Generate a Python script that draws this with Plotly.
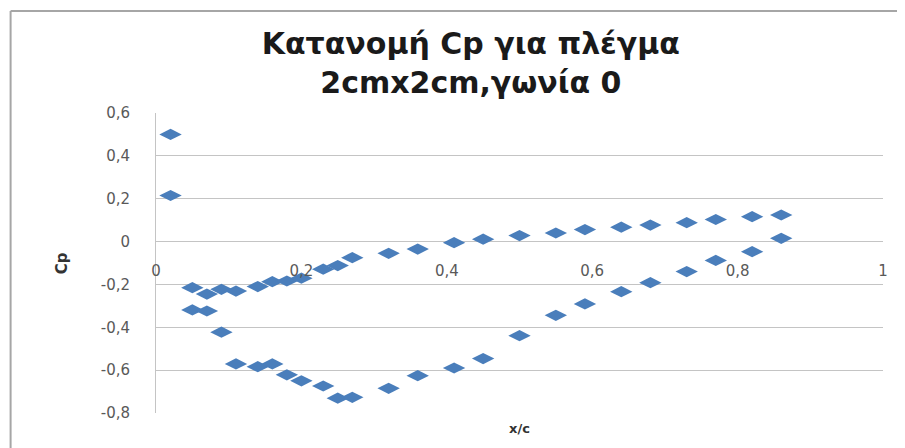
import plotly.graph_objects as go

# Data (x/c, Cp)
x_le = [0.02, 0.02]
cp_le = [0.50, 0.215]

x_stations = [0.05, 0.07, 0.09, 0.11, 0.14, 0.16, 0.18, 0.20, 0.23, 0.25, 0.27,
              0.32, 0.36, 0.41, 0.45, 0.50, 0.55, 0.59, 0.64, 0.68, 0.73, 0.77,
              0.82, 0.86]
cp_upper = [-0.215, -0.245, -0.223, -0.231, -0.210, -0.187, -0.184, -0.171,
            -0.129, -0.112, -0.075, -0.055, -0.035, -0.005, 0.011, 0.028,
            0.040, 0.056, 0.067, 0.077, 0.088, 0.103, 0.116, 0.124]
cp_lower = [-0.319, -0.324, -0.423, -0.571, -0.584, -0.571, -0.622, -0.650,
            -0.674, -0.731, -0.727, -0.685, -0.626, -0.590, -0.546, -0.439,
            -0.344, -0.291, -0.234, -0.192, -0.140, -0.088, -0.047, 0.015]

x_tickvals = [0, 0.2, 0.4, 0.6, 0.8, 1]
x_ticktext = ["0", "0,2", "0,4", "0,6", "0,8", "1"]
y_tickvals = [0.6, 0.4, 0.2, 0, -0.2, -0.4, -0.6, -0.8]
y_ticktext = ["0,6", "0,4", "0,2", "0", "-0,2", "-0,4", "-0,6", "-0,8"]

title_text = "<b>Κατανομή Cp για πλέγμα<br>2cmx2cm,γωνία 0</b>"
x_title = "<b>x/c</b>"
y_title = "<b>Cp</b>"

x_range = [0, 1]
y_range = [-0.8, 0.6]

all_x = x_le + x_stations + x_stations
all_y = cp_le + cp_upper + cp_lower

color = "#4A7EBB"
grid = "#C4C4C4"
label_col = "#595959"
FONT = "DejaVu Sans"

fig = go.Figure()
fig.add_trace(go.Scatter(
    x=all_x, y=all_y, mode="markers",
    marker=dict(symbol="diamond-wide", size=16, color=color,
                line=dict(width=0)),
    showlegend=False, cliponaxis=False,
))

zero_pos = (0 - y_range[0]) / (y_range[1] - y_range[0])

fig.update_layout(
    width=897, height=440,
    margin=dict(l=148, r=22, t=105, b=35),
    paper_bgcolor="white", plot_bgcolor="white",
    font=dict(family=FONT, color=label_col),
    title=dict(text=title_text, x=0.516, xref="container", xanchor="center",
               y=0.895, yref="container", yanchor="middle",
               font=dict(family=FONT, size=30, color="#1a1a1a")),
    xaxis=dict(range=x_range, tickvals=x_tickvals, ticktext=x_ticktext,
               showgrid=False, zeroline=False, showline=False,
               anchor="free", position=zero_pos,
               ticks="outside", ticklen=15, tickcolor="rgba(0,0,0,0)",
               tickfont=dict(size=15, color=label_col)),
    yaxis=dict(range=y_range, tickvals=y_tickvals, ticktext=y_ticktext,
               showgrid=True, gridcolor=grid, gridwidth=1,
               zeroline=False, showline=True, linecolor=grid, linewidth=1,
               ticks="outside", ticklen=22, tickcolor="rgba(0,0,0,0)",
               tickfont=dict(size=15, color=label_col)),
    annotations=[
        dict(text=x_title, xref="paper", yref="paper", x=0.5, y=-0.05,
             xanchor="center", yanchor="middle", showarrow=False,
             font=dict(family=FONT, size=13, color="#333333")),
        dict(text=y_title, xref="paper", yref="paper", x=-0.129, y=0.5,
             xanchor="center", yanchor="middle", showarrow=False, textangle=-90,
             font=dict(family=FONT, size=15, color="#333333")),
    ],
    shapes=[
        dict(type="line", xref="paper", yref="paper", x0=-0.2, x1=1.04,
             y0=1.34, y1=1.34, line=dict(color="#A6A6A6", width=2)),
        dict(type="line", xref="paper", yref="paper", x0=-0.2, x1=-0.2,
             y0=1.34, y1=-0.2, line=dict(color="#A6A6A6", width=2)),
    ],
)

fig.write_html("out.html")
